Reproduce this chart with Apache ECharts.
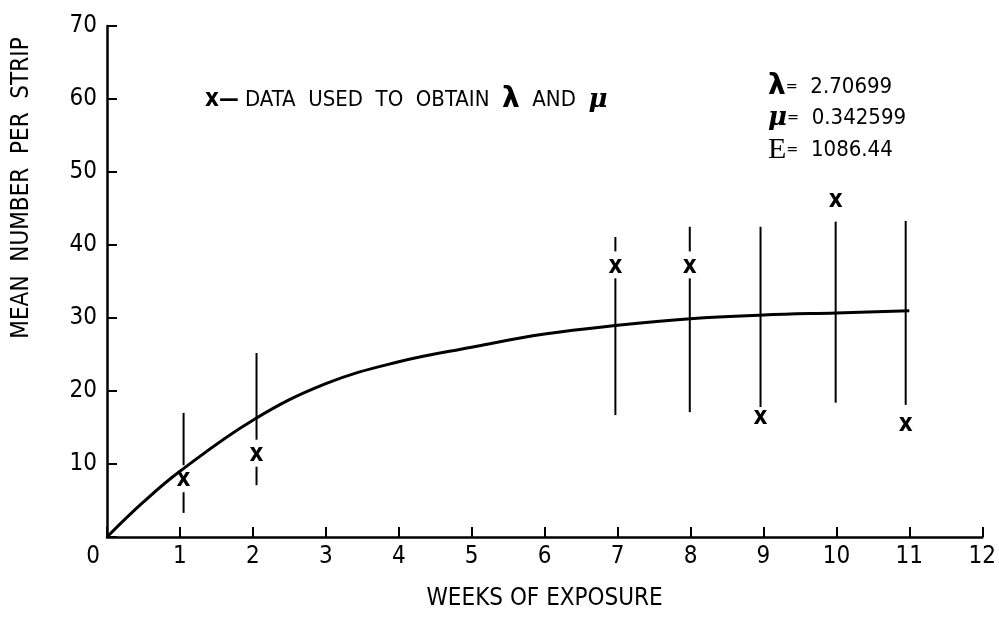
<!DOCTYPE html>
<html>
<head>
<meta charset="utf-8">
<script src="https://cdn.jsdelivr.net/npm/echarts@6/dist/echarts.min.js"></script>
<style>
  html, body { margin: 0; padding: 0; background: #fff; }
  #chart { width: 999px; height: 626px; }
</style>
</head>
<body>
<div id="chart"></div>
<script>
// Fitted curve: mean number per strip against weeks of exposure
const curveWeeks = [0, 0.5, 1, 2, 3, 4, 5, 6, 7, 8, 9, 10, 11];
const curveMeans = [0, 4.8, 9.0, 16.0, 21.0, 24.0, 26.0, 27.8, 29.0, 29.9, 30.4, 30.7, 31.0];

// Observed means with their ranges
const obsWeeks = [1.05, 2.05, 6.97, 7.99, 8.96, 9.99, 10.95];
const obsMeans = [7.5, 11.0, 36.8, 36.8, 16.0, 45.8, 15.1];
const obsLow   = [3.3, 7.1, 16.7, 17.1, 17.8, 18.4, 18.1];
const obsHigh  = [17.0, 25.2, 41.1, 42.5, 42.5, 43.2, 43.3];

// Axis ticks
const xTicks = [0, 1, 2, 3, 4, 5, 6, 7, 8, 9, 10, 11, 12];
const yTicks = [10, 20, 30, 40, 50, 60, 70];

// Fit parameters
const paramLambda = '2.70699';
const paramMu = '0.342599';
const paramE = '1086.44';

const FONT = '"Liberation Sans Narrow", "DejaVu Sans Condensed", "Arial Narrow", sans-serif';
const SERIF = '"DejaVu Serif", "Liberation Serif", serif';

const chart = echarts.init(document.getElementById('chart'), null, { renderer: 'canvas' });

const curveData = curveWeeks.map((w, i) => [w, curveMeans[i]]);
const obsData = obsWeeks.map((w, i) => [w, obsLow[i], obsHigh[i], obsMeans[i]]);

// Vertical range line, broken around the "x" that marks the observed mean
function renderObs(params, api) {
  const x = api.value(0);
  const pLow = api.coord([x, api.value(1)]);
  const pHigh = api.coord([x, api.value(2)]);
  const pMark = api.coord([x, api.value(3)]);
  const px = pLow[0];
  const lineStyle = { stroke: '#000', lineWidth: 2 };
  const children = [];
  const gapAbove = 17, gapBelow = 10;
  if (pMark[1] > pHigh[1] && pMark[1] < pLow[1]) {
    children.push({ type: 'line', shape: { x1: px, y1: pHigh[1], x2: px, y2: pMark[1] - gapAbove }, style: lineStyle });
    children.push({ type: 'line', shape: { x1: px, y1: pMark[1] + gapBelow, x2: px, y2: pLow[1] }, style: lineStyle });
  } else {
    children.push({ type: 'line', shape: { x1: px, y1: pHigh[1], x2: px, y2: pLow[1] }, style: lineStyle });
  }
  children.push({
    type: 'text',
    x: pMark[0],
    y: pMark[1] - 2,
    style: { text: 'x', font: 'bold 24px ' + FONT, fill: '#000', align: 'center', verticalAlign: 'middle' }
  });
  return { type: 'group', children: children };
}

const option = {
  backgroundColor: '#fff',
  animation: false,
  grid: { left: 107, right: 16, top: 26, bottom: 89, containLabel: false },
  xAxis: {
    type: 'value',
    min: 0, max: 12, interval: 1,
    name: 'WEEKS OF EXPOSURE',
    nameLocation: 'middle',
    nameGap: 50,
    nameTextStyle: { fontFamily: FONT, fontSize: 24, color: '#000' },
    axisLine: { show: true, onZero: false, lineStyle: { color: '#000', width: 2.5 } },
    axisTick: { show: true, inside: true, length: 10, lineStyle: { color: '#000', width: 2 } },
    axisLabel: {
      color: '#000', fontFamily: FONT, fontSize: 24, margin: 8,
      formatter: v => (v === xTicks[0] ? '{z|' + v + '}' : String(v)),
      rich: { z: { fontFamily: FONT, fontSize: 24, color: '#000', padding: [0, 28, 0, 0] } }
    },
    splitLine: { show: false }
  },
  yAxis: {
    type: 'value',
    min: 0, max: 70, interval: 10,
    axisLine: { show: true, onZero: false, lineStyle: { color: '#000', width: 2.5 } },
    axisTick: { show: true, inside: true, length: 10, lineStyle: { color: '#000', width: 2 } },
    axisLabel: {
      color: '#000', fontFamily: FONT, fontSize: 24, margin: 10,
      formatter: v => (yTicks.indexOf(v) >= 0 ? String(v) : '')
    },
    splitLine: { show: false }
  },
  graphic: [
    {
      type: 'text',
      x: 22, y: 188,
      rotation: Math.PI / 2,
      style: {
        text: 'MEAN  NUMBER  PER  STRIP',
        font: '24px ' + FONT,
        fill: '#000',
        align: 'center',
        verticalAlign: 'middle'
      }
    },
    {
      type: 'text',
      x: 205, y: 100,
      style: {
        text: '{bx|x}{d|\u2014} DATA  USED  TO  OBTAIN  {l|\u03bb}  AND  {m|\u03bc}',
        font: '22px ' + FONT,
        fill: '#000',
        verticalAlign: 'middle',
        rich: {
          bx: { font: 'bold 24px ' + FONT, fill: '#000' },
          d: { font: 'bold 22px ' + FONT, fill: '#000' },
          l: { font: 'bold 28px "DejaVu Sans", sans-serif', fill: '#000' },
          m: { font: 'bold italic 26px ' + SERIF, fill: '#000' }
        }
      }
    },
    {
      type: 'text',
      x: 768, y: 87,
      style: {
        text: '{l|\u03bb}{q|=}  ' + paramLambda,
        font: '22px ' + FONT, fill: '#000', verticalAlign: 'middle',
        rich: {
          l: { font: 'bold 28px "DejaVu Sans", sans-serif', fill: '#000' },
          q: { font: '16px ' + FONT, fill: '#000' }
        }
      }
    },
    {
      type: 'text',
      x: 768, y: 118,
      style: {
        text: '{m|\u03bc}{q|=}  ' + paramMu,
        font: '22px ' + FONT, fill: '#000', verticalAlign: 'middle',
        rich: {
          m: { font: 'bold italic 26px ' + SERIF, fill: '#000' },
          q: { font: '16px ' + FONT, fill: '#000' }
        }
      }
    },
    {
      type: 'text',
      x: 768, y: 150,
      style: {
        text: '{e|E}{q|=}  ' + paramE,
        font: '22px ' + FONT, fill: '#000', verticalAlign: 'middle',
        rich: {
          e: { font: '30px "Liberation Serif", "DejaVu Serif", serif', fill: '#000' },
          q: { font: '16px ' + FONT, fill: '#000' }
        }
      }
    }
  ],
  series: [
    {
      type: 'line',
      data: curveData,
      smooth: 0.4,
      showSymbol: false,
      lineStyle: { color: '#000', width: 3 },
      z: 3
    },
    {
      type: 'custom',
      data: obsData,
      renderItem: renderObs,
      encode: { x: 0, y: [1, 2] },
      z: 4
    }
  ]
};

chart.setOption(option);
</script>
</body>
</html>
